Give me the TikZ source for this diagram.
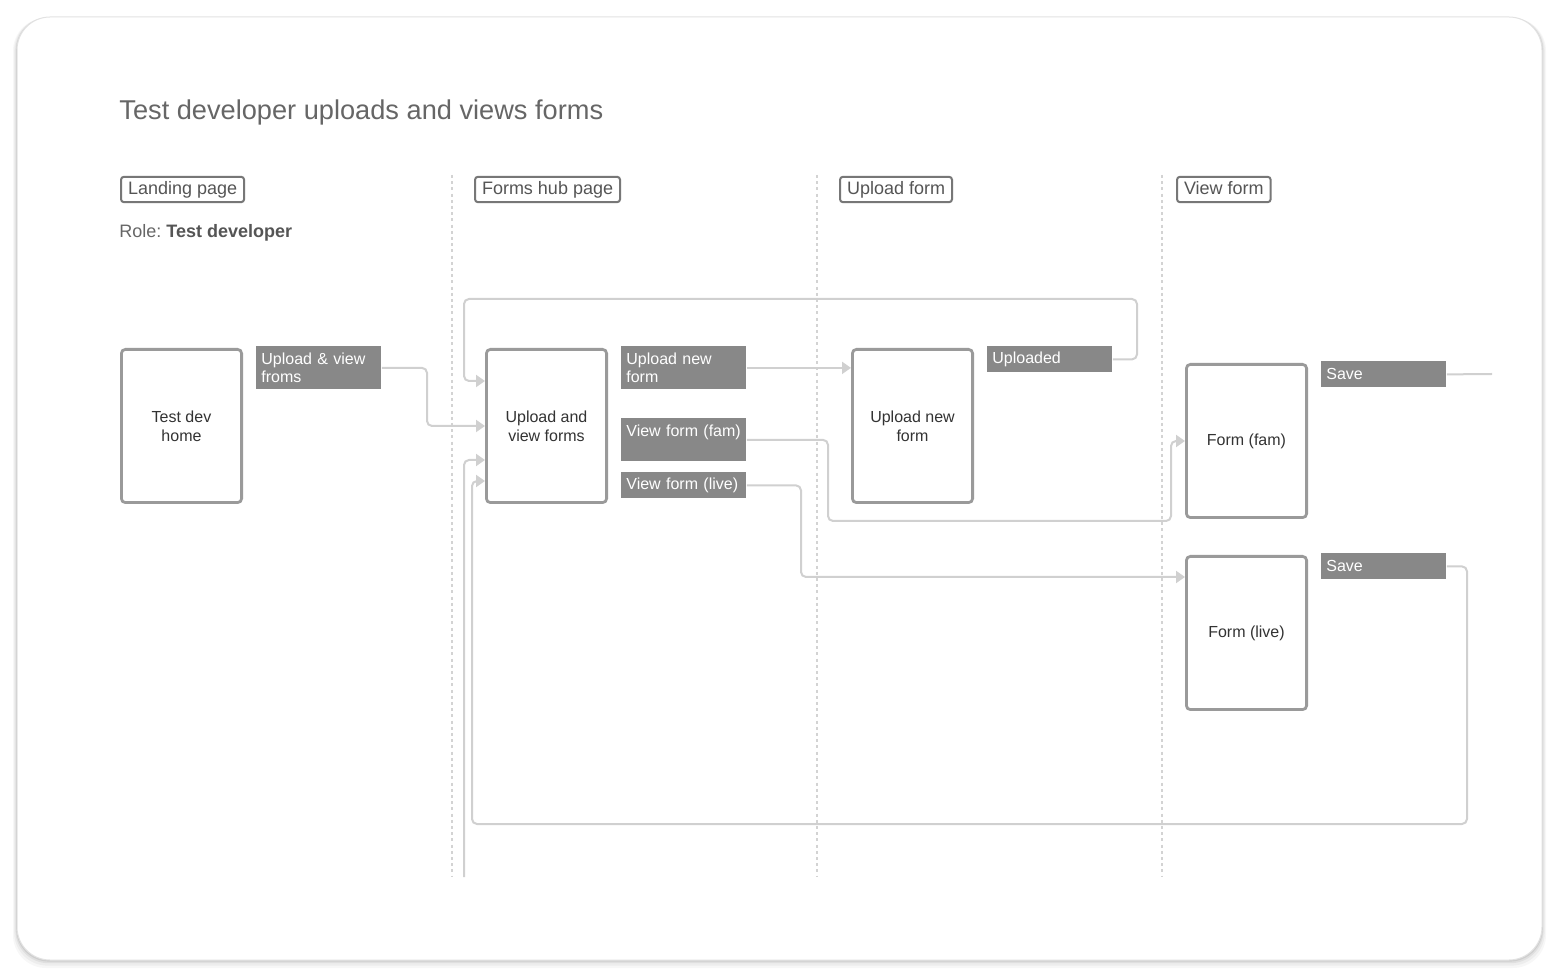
\documentclass[tikz,border=0pt]{standalone}
\usepackage{fontspec}
\setmainfont{Liberation Sans}
\usetikzlibrary{arrows.meta}
\definecolor{pageborder}{HTML}{9A9A9A}
\definecolor{lblgray}{HTML}{888888}
\definecolor{conncol}{HTML}{D0D0D0}
\definecolor{dotcol}{HTML}{D3D3D3}
\definecolor{hdrborder}{HTML}{777777}
\definecolor{hdrtext}{HTML}{555555}
\definecolor{titletext}{HTML}{666666}
\definecolor{nodetext}{HTML}{333333}
\definecolor{framecol}{HTML}{E2E2E2}
\begin{document}
\begin{tikzpicture}[x=0.5pt,y=-0.5pt,
  pagebox/.style={draw=pageborder, line width=1.4pt, rounded corners=2pt, fill=white,
    minimum width=60.1pt, minimum height=76.6pt, inner sep=2pt, align=center,
    text=nodetext, font=\fontsize{8}{9.5}\selectfont},
  lbl/.style={fill=lblgray, text=white, anchor=north west, inner xsep=2.5pt, inner ysep=0pt,
    text width=57.5pt, align=left, minimum height=13pt, font=\fontsize{8}{9}\selectfont},
  hdr/.style={draw=hdrborder, line width=1pt, rounded corners=1.5pt, text=hdrtext,
    font=\fontsize{9}{10}\selectfont, inner xsep=3.5pt, inner ysep=2pt,
    text height=6.8pt, text depth=1.9pt, anchor=west},
  sepline/.style={draw=dotcol, line width=1.3pt, dash pattern=on 1.5pt off 1.6pt},
  conn/.style={draw=conncol, line width=1pt, rounded corners=2.5pt,
    -{Triangle[length=4.5pt,width=6pt,fill=conncol]}},
  plain/.style={draw=conncol, line width=1pt, rounded corners=2.5pt}
]
\useasboundingbox (0,0) rectangle (1560,978);
% frame with shadow
\foreach \d/\op in {10/0.03,7/0.04,4/0.06,2/0.08}{
  \fill[black, opacity=\op, rounded corners=16.5pt] (17-\d*0.4,17+\d*0.1) rectangle (1542+\d*0.4,960+\d*0.8);
}
\draw[draw=framecol, fill=white, line width=0.5pt, rounded corners=16.5pt] (17,17) rectangle (1542,960);

% title and role
\node[anchor=base west, inner sep=0, text=titletext, font=\fontsize{13.6}{16}\selectfont] (title) at (119,120) {Test developer uploads and views forms};
\node[anchor=base west, inner sep=0, text=titletext, font=\fontsize{9}{11}\selectfont] (role) at (119,238) {Role:~{\color{hdrtext}\bfseries Test developer}};

% column headers
\node[hdr] (h1) at (120,189.5) {Landing page};
\node[hdr] (h2) at (474,189.5) {Forms hub page};
\node[hdr] (h3) at (839,189.5) {Upload form};
\node[hdr] (h4) at (1176,189.5) {View form};

% separators
\draw[sepline] (452,175) -- (452,877);
\draw[sepline] (817,175) -- (817,877);
\draw[sepline] (1162,175) -- (1162,877);

% page boxes
\node[pagebox] (home) at (181.5,426) {Test dev\\home};
\node[pagebox] (uvf) at (546.5,426) {Upload and\\view forms};
\node[pagebox] (upn) at (912.5,426) {Upload new\\form};
\node[pagebox] (ffam) at (1246.5,441) {Form (fam)};
\node[pagebox] (flive) at (1246.5,633) {Form (live)};

% action labels
\node[lbl, minimum height=21.5pt] (a1) at (256,346) {Upload \& view\\froms};
\node[lbl, minimum height=21.5pt] (a2) at (621,346) {Upload new\\form};
\node[lbl, minimum height=21.5pt] (a3) at (621,418) {\mbox{View form (fam)}\\\mbox{}};
\node[lbl] (a4) at (621,472) {\mbox{View form (live)}};
\node[lbl] (a5) at (987,346) {Uploaded};
\node[lbl] (a6) at (1321,361) {Save};
\node[lbl] (a7) at (1321,553) {Save};

% connector end points
\coordinate (in3) at (uvf.west |- 0,381);
\coordinate (in7) at (uvf.west |- 0,481);
\coordinate (in8) at (uvf.west |- 0,460);
\coordinate (s8) at (464,877);
\coordinate (e6) at (1492,374);
\coordinate (inl) at (flive.west |- 0,577);

% connectors
\draw[conn] (a1.east) -| (427,400) |- (uvf.west);
\draw[conn] (a2.east) -- (a2.east -| upn.west);
\draw[conn] (a5.east) -| (1137,299) -| (464,381) -- (in3);
\draw[conn] (a3.east) -| (828,521) -| (1171,441) -- (ffam.west);
\draw[conn] (a4.east) -| (801,577) -- (inl);
\draw[plain] (a6.east) -- (e6);
\draw[conn] (a7.east) -| (1467,824) -| (472,481) -- (in7);
\draw[conn] (s8) |- (in8);
\end{tikzpicture}
\end{document}
